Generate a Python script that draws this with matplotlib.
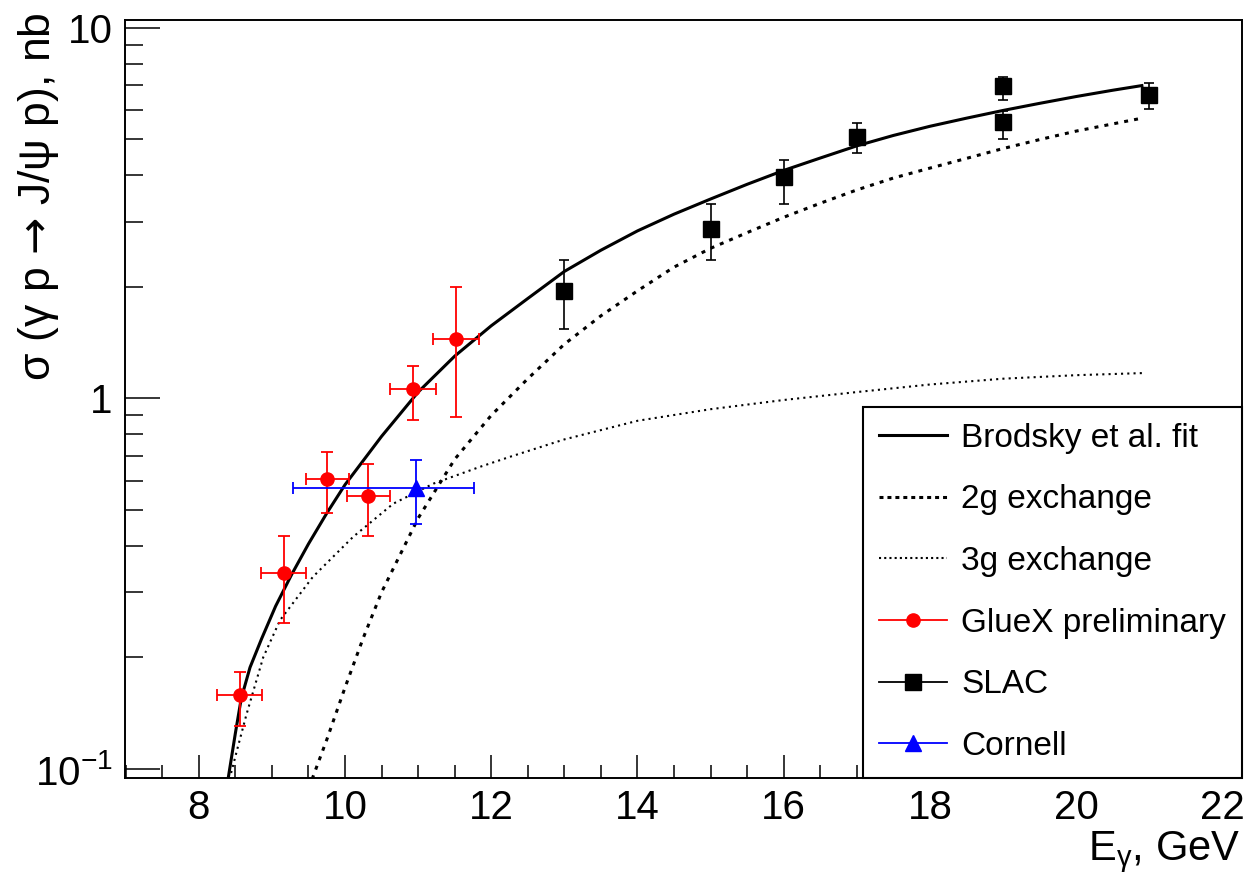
import numpy as np
import matplotlib
matplotlib.use("Agg")
import matplotlib.pyplot as plt
from matplotlib.ticker import MultipleLocator, LogLocator, NullFormatter
from matplotlib.lines import Line2D

# fonty w stylu ROOT-a (Helvetica -> Liberation Sans)
plt.rcParams['font.family'] = ['Liberation Sans', 'DejaVu Sans']
plt.rcParams['mathtext.fontset'] = 'custom'
plt.rcParams['mathtext.rm'] = 'Liberation Sans'
plt.rcParams['mathtext.it'] = 'Liberation Sans:italic'
plt.rcParams['mathtext.sf'] = 'DejaVu Sans'  # strzalka z DejaVu, bo w Liberation jest malutka
plt.rcParams['mathtext.default'] = 'regular'

# krzywe teoretyczne
fit_x = [8.40, 8.50, 8.58, 8.70, 8.86, 9.05, 9.27, 9.50, 9.75, 10.0, 10.5, 11.0,
         11.5, 12.0, 12.5, 13.0, 13.5, 14.0, 14.5, 15.0, 15.5, 16.0, 16.5, 17.0,
         17.5, 18.0, 18.5, 19.0, 19.5, 20.0, 20.5, 20.9]
fit_y = [0.094, 0.125, 0.155, 0.188, 0.225, 0.275, 0.335, 0.405, 0.49, 0.585, 0.79, 1.04,
         1.30, 1.57, 1.86, 2.20, 2.51, 2.83, 3.14, 3.45, 3.78, 4.12, 4.45, 4.80,
         5.12, 5.42, 5.70, 5.98, 6.25, 6.52, 6.78, 6.98]

g2_x = [9.55, 9.75, 10.0, 10.25, 10.5, 11.0, 11.5, 12.0, 12.5, 13.0, 13.5, 14.0,
        14.5, 15.0, 15.5, 16.0, 16.5, 17.0, 17.5, 18.0, 18.5, 19.0, 19.5, 20.0,
        20.5, 20.9]
g2_y = [0.094, 0.120, 0.166, 0.226, 0.30, 0.475, 0.685, 0.9, 1.13, 1.40, 1.67, 1.95,
        2.26, 2.54, 2.80, 3.08, 3.36, 3.65, 3.93, 4.18, 4.44, 4.72, 4.99, 5.26,
        5.50, 5.70]

g3_x = [8.42, 8.52, 8.65, 8.88, 9.11, 9.56, 10.11, 10.66, 11.21, 11.84, 12.25,
        13.0, 14.0, 15.0, 16.0, 17.0, 18.0, 19.0, 20.0, 20.9]
g3_y = [0.094, 0.112, 0.14, 0.20, 0.252, 0.33, 0.423, 0.52, 0.589, 0.653, 0.695,
        0.775, 0.87, 0.935, 0.99, 1.04, 1.09, 1.13, 1.155, 1.17]

# punkty pomiarowe
gluex_x = [8.56, 9.16, 9.76, 10.32, 10.93, 11.52]
gluex_y = [0.158, 0.337, 0.605, 0.547, 1.06, 1.445]
gluex_xerr = [0.31, 0.31, 0.30, 0.29, 0.31, 0.31]
gluex_ylo = [0.027, 0.090, 0.115, 0.121, 0.185, 0.556]
gluex_yhi = [0.025, 0.089, 0.113, 0.119, 0.160, 0.555]

slac_x = [13, 15, 16, 17, 19, 19, 21]
slac_y = [1.95, 2.87, 3.95, 5.06, 6.96, 5.58, 6.58]
slac_ylo = [0.415, 0.51, 0.61, 0.48, 0.58, 0.58, 0.56]
slac_yhi = [0.41, 0.47, 0.46, 0.46, 0.39, 0.38, 0.50]

cornell_x = [10.97]
cornell_y = [0.572]
cornell_xlo = [1.68]
cornell_xhi = [0.79]
cornell_ylo = [0.114]
cornell_yhi = [0.110]

labels = ['Brodsky et al. fit', '2g exchange', '3g exchange',
          'GlueX preliminary', 'SLAC', 'Cornell']

fig = plt.figure(figsize=(12.5, 8.74), dpi=100)
ax = fig.add_axes([0.1, 96 / 874, 1117 / 1250, 758 / 874])

ax.plot(fit_x, fit_y, color='black', lw=2.2, zorder=2)
ax.plot(g2_x, g2_y, color='black', lw=2.2, ls=(0, (1.3, 2.0)), zorder=2)
ax.plot(g3_x, g3_y, color='black', lw=1.5, ls=(0, (1, 2)), zorder=2)

ax.errorbar(gluex_x, gluex_y, xerr=gluex_xerr, yerr=[gluex_ylo, gluex_yhi],
            fmt='o', color='red', ms=9.5, elinewidth=1.3, capsize=4, capthick=1.3, zorder=4)
ax.errorbar(slac_x, slac_y, yerr=[slac_ylo, slac_yhi],
            fmt='s', color='black', ms=11, elinewidth=1.2, capsize=3.5, capthick=1.2, zorder=4)
ax.errorbar(cornell_x, cornell_y, xerr=[cornell_xlo, cornell_xhi], yerr=[cornell_ylo, cornell_yhi],
            fmt='^', color='blue', ms=12, elinewidth=1.3, capsize=4, capthick=1.3, zorder=5)

# osie
ax.set_yscale('log')
ax.set_xlim(6.99, 22.27)
ax.set_ylim(0.0946, 10.49)
ax.set_xticks([8, 10, 12, 14, 16, 18, 20, 22])
ax.xaxis.set_minor_locator(MultipleLocator(0.5))
ax.set_yticks([0.1, 1, 10])
ax.set_yticklabels(['$10^{-1}$', '1', '10'])
ax.yaxis.set_minor_locator(LogLocator(base=10, subs=np.arange(2, 10)))
ax.yaxis.set_minor_formatter(NullFormatter())

ax.tick_params(axis='both', which='both', direction='in', width=1.1, labelsize=29)
ax.tick_params(axis='x', which='major', length=16.5, pad=8)
ax.tick_params(axis='x', which='minor', length=9.4)
ax.tick_params(axis='y', which='major', length=25, pad=9)
ax.tick_params(axis='y', which='minor', length=13)
for s in ax.spines.values():
    s.set_linewidth(1.4)

# tytuly osi wyrownane do konca osi, jak w ROOT
fig.text(1240 / 1250, 1 - 860 / 874, 'E$_{γ}$, GeV', ha='right', va='baseline', fontsize=30)
fig.text(50 / 1250, 1 - 12 / 874, 'σ (γ p $\\mathsf{→}$ J/ψ p), nb', rotation=90,
         rotation_mode='anchor', ha='right', va='baseline', fontsize=32)

# legenda
handles = [
    Line2D([], [], color='black', lw=2.2),
    Line2D([], [], color='black', lw=2.2, ls=(0, (1.3, 1.3))),
    Line2D([], [], color='black', lw=1.5, ls=(0, (1, 1.5))),
    Line2D([], [], color='red', lw=1.3, marker='o', ms=9.5),
    Line2D([], [], color='black', lw=1.3, marker='s', ms=11),
    Line2D([], [], color='blue', lw=1.3, marker='^', ms=12),
]
leg = ax.legend(handles, labels, loc='lower right', bbox_to_anchor=(1, 0), fontsize=24,
                frameon=True, fancybox=False, edgecolor='black', framealpha=1,
                borderaxespad=0, handlelength=2.04, handletextpad=0.42,
                labelspacing=0.92, borderpad=0.48)
leg.get_frame().set_linewidth(1.5)
leg.set_zorder(10)

fig.savefig('out.png', dpi=100)
